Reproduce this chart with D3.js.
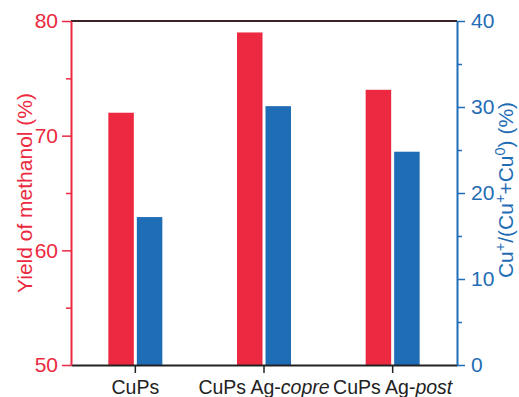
<!DOCTYPE html>
<html>
<head>
<meta charset="utf-8">
<script src="https://cdn.jsdelivr.net/npm/d3@7"></script>
<style>
  html, body { margin: 0; padding: 0; background: #fff; }
  svg { display: block; font-family: "Liberation Sans", Arial, sans-serif; }
</style>
</head>
<body>
<svg id="chart" width="519" height="397"></svg>
<script>
// Catalysts and measured values
const categories = ["CuPs", "CuPs Ag-copre", "CuPs Ag-post"];
const methanolYield = [72, 79, 74];        // left axis, %
const cuPlusRatio = [17.2, 30.1, 24.8];    // right axis, %
const leftTicks = [50, 60, 70, 80];
const leftMinor = [55, 65, 75];
const rightTicks = [0, 10, 20, 30, 40];
const rightMinor = [5, 15, 25, 35];

const RED = "#ec2940";
const BLUE = "#1f6db5";

const svg = d3.select("#chart");
const margin = { left: 71, right: 62, top: 21, bottom: 32 };
const W = 519, H = 397;
const x0 = margin.left, x1 = W - margin.right;
const y0 = H - margin.bottom, y1 = margin.top;

const x = d3.scaleBand().domain(categories).range([x0, x1]).padding(0);
const yL = d3.scaleLinear().domain([50, 80]).range([y0, y1]);
const yR = d3.scaleLinear().domain([0, 40]).range([y0, y1]);

const barW = 25.5, gap = 3;

// Bars: yield (red, left scale) and Cu+ fraction (blue, right scale)
const g = svg.append("g");
g.selectAll("rect.red").data(categories).join("rect")
  .attr("class", "red")
  .attr("x", d => x(d) + x.bandwidth() / 2 - gap / 2 - barW)
  .attr("width", barW)
  .attr("y", (d, i) => yL(methanolYield[i]))
  .attr("height", (d, i) => y0 - yL(methanolYield[i]))
  .attr("fill", RED);
g.selectAll("rect.blue").data(categories).join("rect")
  .attr("class", "blue")
  .attr("x", d => x(d) + x.bandwidth() / 2 + gap / 2)
  .attr("width", barW)
  .attr("y", (d, i) => yR(cuPlusRatio[i]))
  .attr("height", (d, i) => y0 - yR(cuPlusRatio[i]))
  .attr("fill", BLUE);

// Top frame line
svg.append("line")
  .attr("x1", x0).attr("x2", x1).attr("y1", y1).attr("y2", y1)
  .attr("stroke", "#3b2326").attr("stroke-width", 2);

// Bottom axis
const xAxis = svg.append("g").attr("transform", `translate(0,${y0})`)
  .call(d3.axisBottom(x).tickSize(8).tickSizeOuter(0));
xAxis.select(".domain").attr("stroke", "#222").attr("stroke-width", 2);
xAxis.selectAll(".tick line").attr("stroke", "#222").attr("stroke-width", 1.5);
xAxis.selectAll(".tick text").remove();
xAxis.selectAll(".tick").each(function(d) {
  const t = d3.select(this).append("text")
    .attr("y", 29).attr("text-anchor", "middle")
    .attr("fill", "#222").attr("font-size", 19.5);
  const parts = d.split(" Ag-");
  if (parts.length === 2) {
    t.append("tspan").text(parts[0] + " Ag-");
    t.append("tspan").attr("font-style", "italic").text(parts[1]);
  } else {
    t.text(d);
  }
});

function styleAxis(ax, color) {
  ax.select(".domain").attr("stroke", color).attr("stroke-width", 2);
  ax.selectAll(".tick line").attr("stroke", color).attr("stroke-width", 1.5);
  ax.selectAll(".tick text").attr("fill", color).attr("font-size", 21)
    .attr("font-family", "Liberation Sans, Arial, sans-serif");
}

// Left axis (methanol yield)
const leftAx = svg.append("g").attr("transform", `translate(${x0},0)`)
  .call(d3.axisLeft(yL).tickValues(leftTicks).tickSize(9).tickSizeOuter(0).tickPadding(4));
styleAxis(leftAx, RED);
svg.append("g").attr("transform", `translate(${x0},0)`)
  .call(d3.axisLeft(yL).tickValues(leftMinor).tickSize(5).tickFormat("").tickSizeOuter(0))
  .call(a => a.select(".domain").remove())
  .selectAll("line").attr("stroke", RED).attr("stroke-width", 1.5);

// Right axis (Cu+ fraction)
const rightAx = svg.append("g").attr("transform", `translate(${x1},0)`)
  .call(d3.axisRight(yR).tickValues(rightTicks).tickSize(8).tickSizeOuter(0).tickPadding(6));
styleAxis(rightAx, BLUE);
svg.append("g").attr("transform", `translate(${x1},0)`)
  .call(d3.axisRight(yR).tickValues(rightMinor).tickSize(5).tickFormat("").tickSizeOuter(0))
  .call(a => a.select(".domain").remove())
  .selectAll("line").attr("stroke", BLUE).attr("stroke-width", 1.5);

// Axis titles
svg.append("text")
  .attr("transform", `translate(31.5,193) rotate(-90)`)
  .attr("text-anchor", "middle").attr("fill", RED).attr("font-size", 21)
  .text("Yield of methanol (%)");

const rt = svg.append("text")
  .attr("transform", `translate(513,190) rotate(-90)`)
  .attr("text-anchor", "middle").attr("fill", BLUE).attr("font-size", 21);
rt.append("tspan").text("Cu");
rt.append("tspan").attr("dy", -8).attr("font-size", 14.5).text("+");
rt.append("tspan").attr("dy", 8).text("/(Cu");
rt.append("tspan").attr("dy", -8).attr("font-size", 14.5).text("+");
rt.append("tspan").attr("dy", 8).text("+Cu");
rt.append("tspan").attr("dy", -8).attr("font-size", 14.5).text("0");
rt.append("tspan").attr("dy", 8).text(") (%)");
</script>
</body>
</html>
